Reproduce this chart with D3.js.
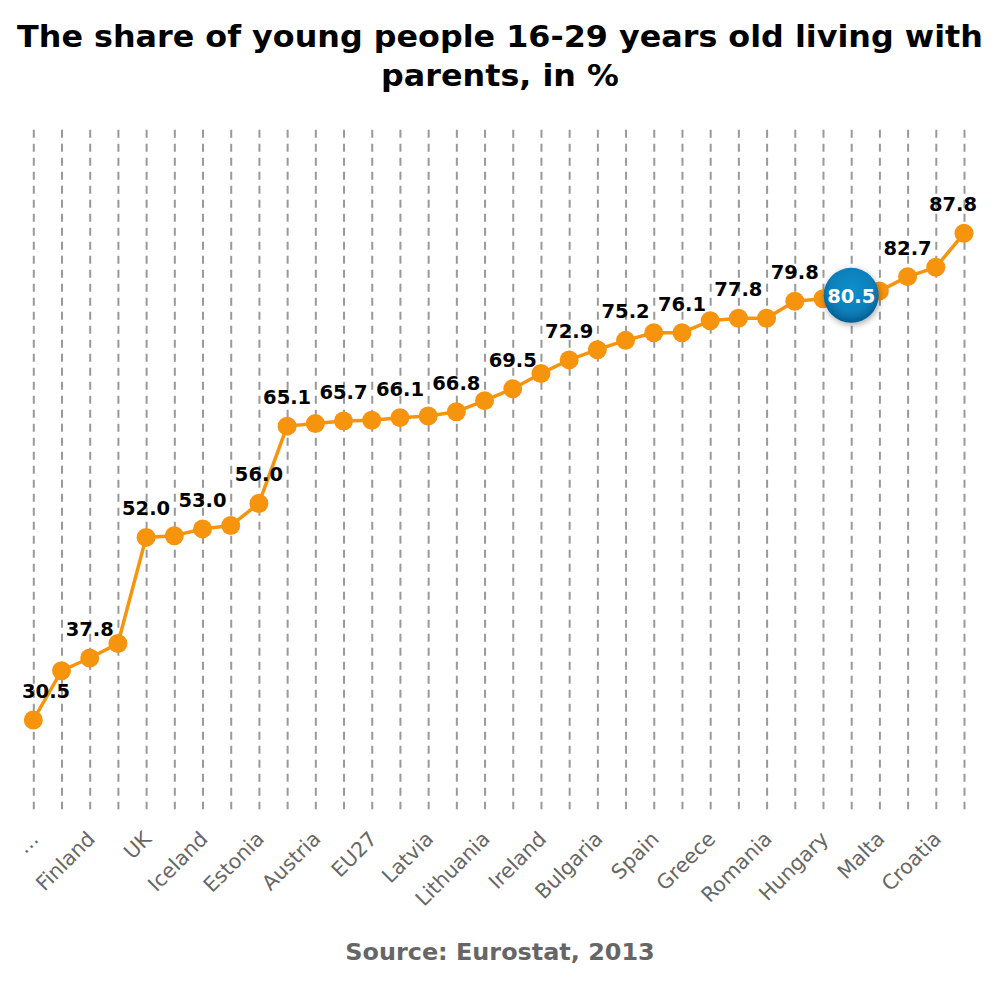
<!DOCTYPE html>
<html>
<head>
<meta charset="utf-8">
<script src="https://cdn.jsdelivr.net/npm/d3@7"></script>
<style>
  html, body { margin: 0; padding: 0; background: #fff; }
  svg { display: block; font-family: "DejaVu Sans", Verdana, sans-serif; }
</style>
</head>
<body>
<svg id="chart" width="1000" height="1000"></svg>
<script>
// ---- data ----
const categories = ["Denmark", "Norway", "Finland", "Sweden", "UK", "Netherlands", "Iceland", "France",
  "Estonia", "Germany", "Austria", "Belgium", "EU27", "Luxembourg", "Latvia", "Czech Republic",
  "Lithuania", "Cyprus", "Ireland", "Poland", "Bulgaria", "Portugal", "Spain", "Slovenia",
  "Greece", "Italy", "Romania", "Slovakia", "Hungary", "Switzerland", "Malta", "Serbia",
  "Croatia", "Macedonia"];
const values = [30.5, 36.3, 37.8, 39.5, 52.0, 52.2, 53.0, 53.4, 56.0, 65.1, 65.4, 65.7, 65.8, 66.1,
  66.3, 66.8, 68.1, 69.5, 71.3, 72.9, 74.1, 75.2, 76.1, 76.1, 77.5, 77.8, 77.8, 79.8, 80.1, 80.5,
  81.0, 82.7, 83.8, 87.8];
// tick labels as displayed (every other category; first one truncated)
const tickLabels = ["\u2026", "", "Finland", "", "UK", "", "Iceland", "", "Estonia", "", "Austria", "",
  "EU27", "", "Latvia", "", "Lithuania", "", "Ireland", "", "Bulgaria", "", "Spain", "", "Greece", "",
  "Romania", "", "Hungary", "", "Malta", "", "Croatia", ""];
// indices of points whose value label is visible
const labeledIdx = [0, 2, 4, 6, 8, 9, 11, 13, 15, 17, 19, 21, 23, 25, 27, 31, 33];
const highlightIdx = 29;
const yDomain = [20, 100];
const titleLines = ["The share of young people 16-29 years old living with", "parents, in %"];
const sourceText = "Source: Eurostat, 2013";

// ---- layout ----
const svg = d3.select("#chart");
const plotTop = 129.7, plotBottom = 809.2;

const x = d3.scalePoint().domain(d3.range(categories.length)).range([33.3, 964]);
const y = d3.scaleLinear().domain(yDomain).range([plotBottom, plotTop]);

const orange = "#F7940E";
const defs = svg.append("defs");
const rg = defs.append("radialGradient").attr("id", "bubbleGrad")
  .attr("cx", "50%").attr("cy", "40%").attr("r", "60%");
rg.append("stop").attr("offset", "0%").attr("stop-color", "#0c8fcc");
rg.append("stop").attr("offset", "65%").attr("stop-color", "#0980bb");
rg.append("stop").attr("offset", "100%").attr("stop-color", "#055d90");
const f = defs.append("filter").attr("id", "shadow").attr("x", "-50%").attr("y", "-50%")
  .attr("width", "200%").attr("height", "200%");
f.append("feDropShadow").attr("dx", 1).attr("dy", 2).attr("stdDeviation", 3)
  .attr("flood-color", "#000").attr("flood-opacity", 0.35);

// title (slightly widened to match the wider bold face of the original)
svg.append("g").attr("transform", "translate(500,0) scale(1.06,1)")
  .append("text")
  .attr("x", 0).attr("y", 47)
  .attr("text-anchor", "middle")
  .attr("font-size", 30).attr("font-weight", "bold").attr("fill", "#000")
  .selectAll("tspan").data(titleLines).join("tspan")
  .attr("x", 0).attr("dy", (d, i) => i === 0 ? 0 : 39.5)
  .text(d => d);

// x axis with dashed grid lines
const xAxis = d3.axisBottom(x)
  .tickSize(-(plotBottom - plotTop))
  .tickFormat(i => tickLabels[i]);
const gx = svg.append("g").attr("transform", `translate(0,${plotBottom})`).call(xAxis);
gx.select(".domain").remove();
gx.selectAll(".tick line")
  .attr("stroke", "#999").attr("stroke-width", 2)
  .attr("stroke-dasharray", "8,6")
  .attr("y1", -(plotBottom - plotTop)).attr("y2", 0);
gx.selectAll(".tick text")
  .attr("font-family", "DejaVu Sans, sans-serif")
  .attr("font-size", 20.5).attr("fill", "#666")
  .attr("text-anchor", "end")
  .attr("dy", 0).attr("y", 0)
  .attr("transform", "translate(6,31) rotate(-45)");

// line
svg.append("path")
  .datum(values)
  .attr("fill", "none").attr("stroke", orange).attr("stroke-width", 3.5)
  .attr("stroke-linejoin", "round")
  .attr("d", d3.line().x((d, i) => x(i)).y(d => y(d)));

// markers
svg.append("g").selectAll("circle").data(values).join("circle")
  .attr("cx", (d, i) => x(i)).attr("cy", d => y(d)).attr("r", 9.5)
  .attr("fill", orange);

// value labels
const lg = svg.append("g");
labeledIdx.forEach(i => {
  const t = lg.append("text")
    .attr("x", x(i)).attr("y", y(values[i]) - 22)
    .attr("text-anchor", "middle")
    .attr("font-size", 19.5).attr("font-weight", "bold").attr("fill", "#000")
    .text(values[i].toFixed(1));
  const w = t.node().getComputedTextLength();
  let cx = x(i);
  if (cx - w / 2 < 22) cx = 22 + w / 2;
  if (cx + w / 2 > 977) cx = 977 - w / 2;
  t.attr("x", cx);
});

// highlighted bubble
const hx = x(highlightIdx), hy = y(values[highlightIdx]);
svg.append("circle").attr("cx", hx).attr("cy", hy).attr("r", 27.5)
  .attr("fill", "url(#bubbleGrad)").attr("filter", "url(#shadow)");
svg.append("text").attr("x", hx).attr("y", hy + 7.5)
  .attr("text-anchor", "middle")
  .attr("font-size", 19.5).attr("font-weight", "bold").attr("fill", "#fff")
  .text(values[highlightIdx].toFixed(1));

// source
svg.append("g").attr("transform", "translate(500,0) scale(1.04,1)")
  .append("text").attr("x", 0).attr("y", 960)
  .attr("text-anchor", "middle")
  .attr("font-size", 23).attr("font-weight", "bold").attr("fill", "#666")
  .text(sourceText);
</script>
</body>
</html>
